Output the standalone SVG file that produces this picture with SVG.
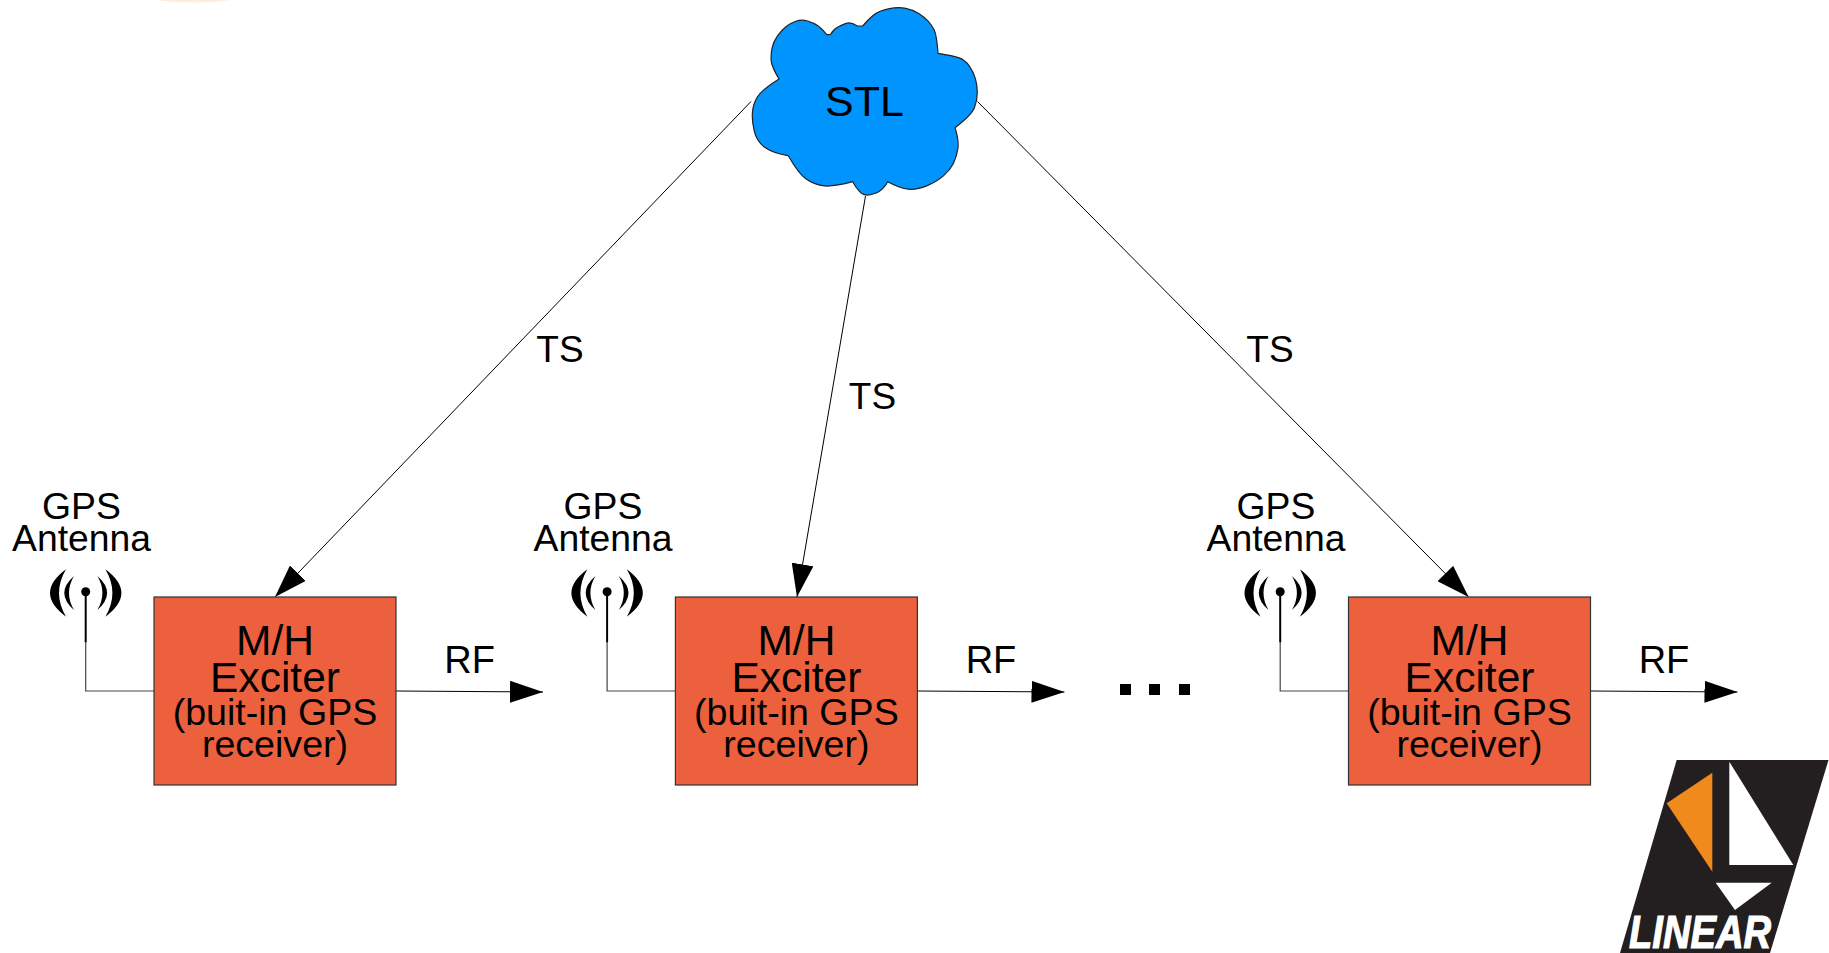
<svg xmlns="http://www.w3.org/2000/svg" width="1829" height="953" viewBox="0 0 1829 953">
<style>
text{font-family:"Liberation Sans",Arial,sans-serif;fill:#000;text-anchor:middle}
.box{fill:#ed603d;stroke:#333;stroke-width:1.2}
.conn{fill:none;stroke:#000;stroke-width:1;marker-end:url(#arrow)}
.wire{fill:none;stroke:#444;stroke-width:1.2}
.mast{stroke:#000;stroke-width:2}
.ts{font-size:37px}
.ant{font-size:37.3px}
.rf{font-size:38px}
.t1{font-size:42.5px}
.t2{font-size:37.6px}
</style>
<defs>
<marker id="arrow" markerUnits="userSpaceOnUse" markerWidth="33" markerHeight="22" viewBox="0 0 33 22" refX="33" refY="11" orient="auto">
<path d="M0 0L33 11L0 22Z" fill="#000"/>
</marker>
<g id="antenna">
<path d="M-19.7 -22.4Q-51.7 1.3 -19.7 25Q-33.7 1.3 -19.7 -22.4Z"/>
<path d="M19.7 -22.4Q51.7 1.3 19.7 25Q33.7 1.3 19.7 -22.4Z"/>
<path d="M-11.7 -15.7Q-31.1 1.3 -11.7 18.3Q-21.7 1.3 -11.7 -15.7Z"/>
<path d="M11.7 -15.7Q31.1 1.3 11.7 18.3Q21.7 1.3 11.7 -15.7Z"/>
<circle r="4.5"/>
<line class="mast" x1="0" y1="0" x2="0" y2="50.5"/>
</g>
</defs>
<path id="top-smudge" d="M155 0Q193 5 232 0Z" fill="#fdeedb"/>
<g id="connectors">
<path class="conn" d="M751 101.5L275 597"/>
<path class="conn" d="M865.5 196L797 597"/>
<path class="conn" d="M977.5 101.5L1468.6 597"/>
<path class="conn" d="M396 691L543 692"/>
<path class="conn" d="M917.5 691L1064.5 692"/>
<path class="conn" d="M1590.5 691L1737.5 692"/>
<path class="wire" d="M85.7 642V691H154"/>
<path class="wire" d="M607.1 642V691H675.4"/>
<path class="wire" d="M1280.2 642V691H1348.5"/>
</g>
<g id="cloud-stl">
<path fill="#0094ff" stroke="#222" stroke-width="1.2" stroke-linejoin="round" d="M779 79Q771.7 66.7 771.2 60.9Q770.7 55 772 48.4Q773.3 41.7 777.5 35.9Q781.7 30 785.9 26.7Q790 23.3 795.9 21.3Q801.7 19.3 807.5 21Q813.3 22.7 817.5 25.5Q821.7 28.3 826.7 34.7L830.7 34.3Q833.3 29.3 837.5 27.2Q841.7 25 846.2 23.4Q850.7 21.7 857.3 26L862.7 26Q868.3 19.3 873.3 15.2Q878.3 11 888.3 8.9Q898.3 6.7 905.8 8.4Q913.3 10 918.7 13.4Q924 16.7 927.9 20.9Q931.7 25 934.2 30Q936.7 35 938 53.3Q953.3 55.7 959.2 57.9Q965 60 969.2 65.9Q973.3 71.7 975.3 78.4Q977.3 85 977.3 92.5Q977.3 100 974.5 107.5Q971.7 115 955 127.7Q959 140 957.9 148.4Q956.7 156.7 953.4 163.4Q950 170 943.4 175.9Q936.7 181.7 926.7 185.9Q916.7 190 908.4 189.2Q900 188.3 887.7 181.7Q883.3 190 876.2 193Q869 196 864.2 194.7Q859.3 193.3 852.7 181.7Q831.7 187.3 822.5 185.7Q813.3 184 805.8 178.7Q798.3 173.3 788.3 155.7Q773.3 153.3 765 147.5Q756.7 141.7 754.2 130.9Q751.7 120 752.5 111.7Q753.3 103.3 757.5 96.7Q761.7 90 779 79Z"/>
<text x="864.5" y="116" font-size="43">STL</text>
</g>
<g id="exciter-1">
<rect class="box" x="154" y="597" width="242" height="188"/>
<text class="t1" x="275" y="655">M/H</text>
<text class="t1" x="275" y="692">Exciter</text>
<text class="t2" x="275" y="725">(buit-in GPS</text>
<text class="t2" x="275" y="757">receiver)</text>
</g>
<g id="exciter-2">
<rect class="box" x="675.4" y="597" width="242" height="188"/>
<text class="t1" x="796.4" y="655">M/H</text>
<text class="t1" x="796.4" y="692">Exciter</text>
<text class="t2" x="796.4" y="725">(buit-in GPS</text>
<text class="t2" x="796.4" y="757">receiver)</text>
</g>
<g id="exciter-3">
<rect class="box" x="1348.5" y="597" width="242" height="188"/>
<text class="t1" x="1469.5" y="655">M/H</text>
<text class="t1" x="1469.5" y="692">Exciter</text>
<text class="t2" x="1469.5" y="725">(buit-in GPS</text>
<text class="t2" x="1469.5" y="757">receiver)</text>
</g>
<g id="gps-antenna-1">
<use href="#antenna" x="85.7" y="591.7"/>
<text class="ant" x="81.5" y="518.5">GPS</text>
<text class="ant" x="81.5" y="551">Antenna</text>
</g>
<g id="gps-antenna-2">
<use href="#antenna" x="607.1" y="591.7"/>
<text class="ant" x="603" y="518.5">GPS</text>
<text class="ant" x="603" y="551">Antenna</text>
</g>
<g id="gps-antenna-3">
<use href="#antenna" x="1280.2" y="591.7"/>
<text class="ant" x="1276" y="518.5">GPS</text>
<text class="ant" x="1276" y="551">Antenna</text>
</g>
<g id="labels">
<text class="ts" x="560" y="362">TS</text>
<text class="ts" x="872.5" y="409">TS</text>
<text class="ts" x="1270" y="362">TS</text>
<text class="rf" x="469.6" y="673">RF</text>
<text class="rf" x="991" y="673">RF</text>
<text class="rf" x="1664" y="673">RF</text>
</g>
<g id="ellipsis" fill="#000">
<rect x="1120" y="684" width="11" height="11"/>
<rect x="1149" y="684" width="11" height="11"/>
<rect x="1179" y="684" width="11" height="11"/>
</g>
<g id="linear-logo">
<path fill="#231f20" d="M1676.7 760H1828.5L1770 953H1620Z"/>
<path fill="#f08a1d" d="M1712.3 772.7L1666.7 803.3L1712.3 871.7Z"/>
<path fill="#fff" d="M1729.3 761.7L1793.3 865H1729.3Z"/>
<path fill="#fff" d="M1715.7 882.7H1771.7L1735 910Z"/>
<text x="1700" y="948" font-size="46" font-weight="bold" font-style="italic" textLength="142" lengthAdjust="spacingAndGlyphs" style="fill:#fff;stroke:#fff;stroke-width:1.2">LINEAR</text>
</g>
</svg>
